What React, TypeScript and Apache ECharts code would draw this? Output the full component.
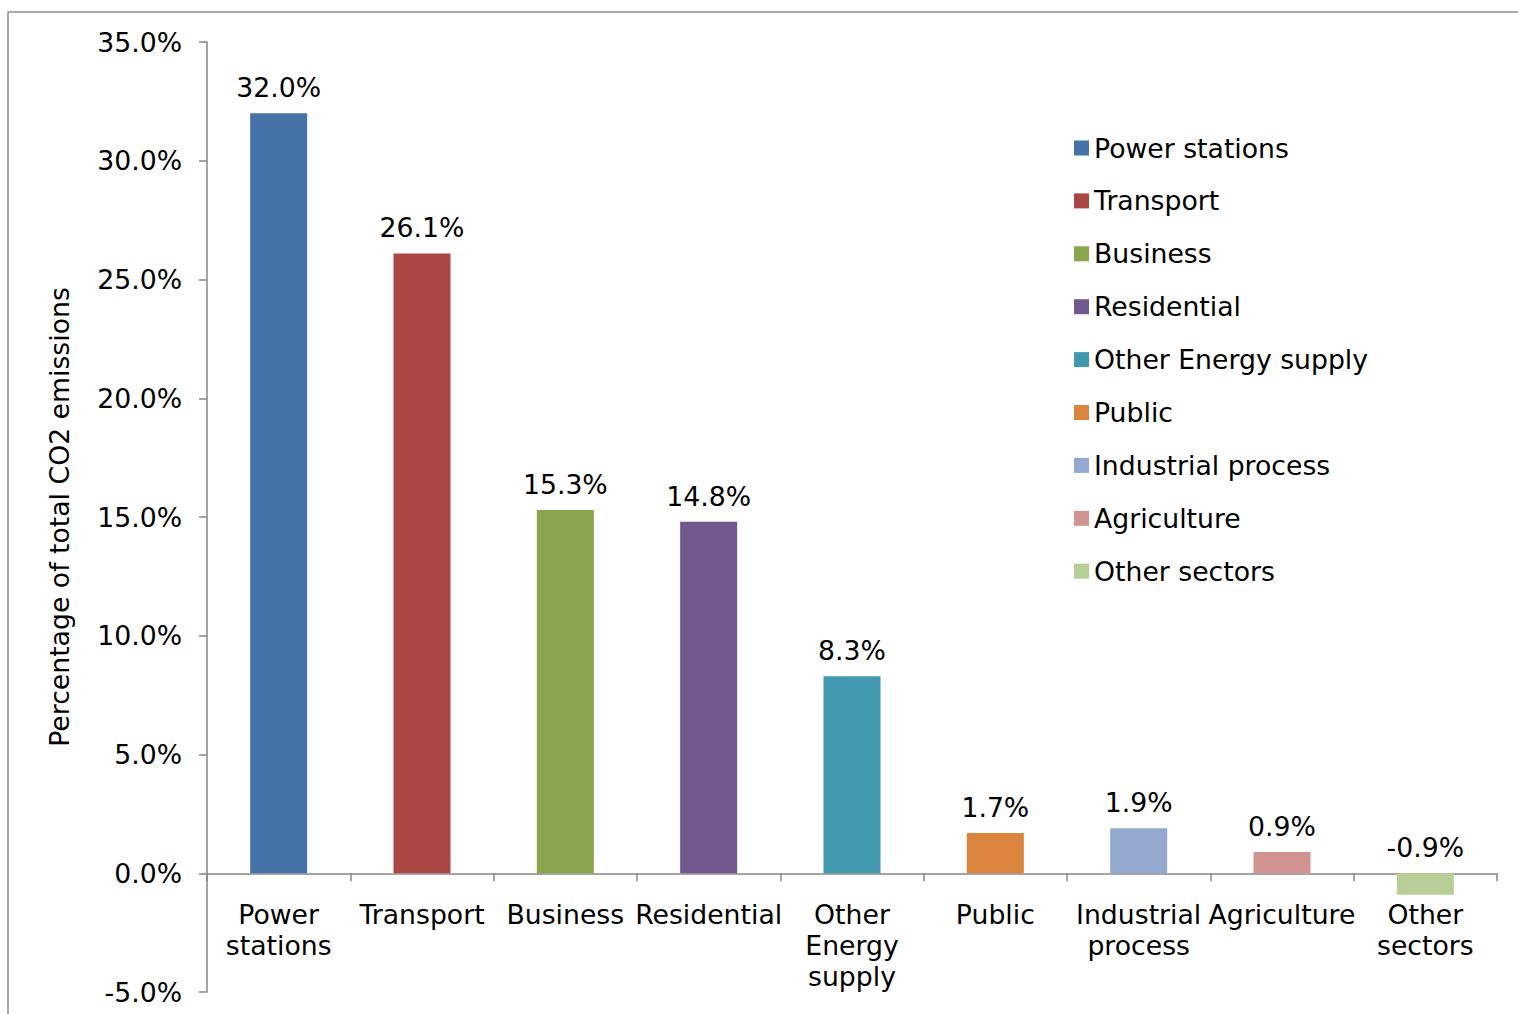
import React, { useEffect, useRef } from "react";
import * as echarts from "echarts";

const categories = [
  "Power\nstations",
  "Transport",
  "Business",
  "Residential",
  "Other\nEnergy\nsupply",
  "Public",
  "Industrial\nprocess",
  "Agriculture",
  "Other\nsectors",
];
const seriesNames = [
  "Power stations",
  "Transport",
  "Business",
  "Residential",
  "Other Energy supply",
  "Public",
  "Industrial process",
  "Agriculture",
  "Other sectors",
];
const values = [32.0, 26.1, 15.3, 14.8, 8.3, 1.7, 1.9, 0.9, -0.9];
const colors = [
  "#4572A7",
  "#AA4643",
  "#89A54E",
  "#71588F",
  "#4198AF",
  "#DB843D",
  "#93A9CF",
  "#D19392",
  "#B9CD96",
];
const yTicks = { min: -5, max: 35, interval: 5 };

const FONT = "DejaVu Sans, Verdana, sans-serif";
const FS = 26.7;

export default function App() {
  const ref = useRef<HTMLDivElement>(null);
  useEffect(() => {
    if (!ref.current) return;
    const chart = echarts.init(ref.current, null, { renderer: "svg" });
    const series = seriesNames.map((name, i) => ({
      name,
      type: "bar",
      stack: "all",
      barWidth: 57,
      itemStyle: { color: colors[i] },
      label: {
        show: true,
        position: "top",
        distance: 12,
        formatter: (p: any) => Number(p.value).toFixed(1) + "%",
        color: "#000",
        fontSize: FS,
        fontFamily: FONT,
      },
      data: categories.map((_, j) => (j === i ? values[i] : "-")),
    }));
    chart.setOption({
      animation: false,
      textStyle: { fontFamily: FONT },
      graphic: [
        {
          type: "rect",
          shape: { x: 8, y: 12, width: 1600, height: 1100 },
          style: { fill: "none", stroke: "#8e8e8e", lineWidth: 1.5 },
          silent: true,
          z: -10,
        },
      ],
      grid: {
        left: 207,
        right: 21,
        top: 42,
        bottom: 22,
        containLabel: false,
        outerBoundsMode: "none",
      },
      legend: {
        orient: "vertical",
        left: 1069,
        top: 128,
        itemWidth: 15,
        itemHeight: 15,
        itemGap: 22.9,
        icon: "rect",
        data: seriesNames,
        textStyle: {
          fontSize: FS,
          fontFamily: FONT,
          color: "#000",
          lineHeight: 30,
        },
      },
      xAxis: {
        type: "category",
        data: categories,
        position: "bottom",
        offset: -118.75,
        axisLine: { onZero: false, lineStyle: { color: "#868686", width: 1.5 } },
        axisTick: {
          show: true,
          alignWithLabel: false,
          length: 8,
          lineStyle: { color: "#868686", width: 1.5 },
        },
        axisLabel: {
          interval: 0,
          margin: 26,
          fontSize: FS,
          lineHeight: 31,
          color: "#000",
          fontFamily: FONT,
        },
      },
      yAxis: {
        type: "value",
        min: yTicks.min,
        max: yTicks.max,
        interval: yTicks.interval,
        name: "Percentage of total CO2 emissions",
        nameLocation: "middle",
        nameGap: 134,
        nameTextStyle: { fontSize: FS, color: "#000", fontFamily: FONT },
        splitLine: { show: false },
        axisLine: { show: true, lineStyle: { color: "#868686", width: 1.5 } },
        axisTick: { show: true, length: 8, lineStyle: { color: "#868686", width: 1.5 } },
        axisLabel: {
          margin: 25,
          fontSize: FS,
          color: "#000",
          fontFamily: FONT,
          formatter: (v: number) => v.toFixed(1) + "%",
        },
      },
      series,
    });
    return () => chart.dispose();
  }, []);
  return (
    <div
      ref={ref}
      style={{ position: "fixed", left: 0, top: 0, width: 1518, height: 1014, background: "#fff" }}
    />
  );
}
